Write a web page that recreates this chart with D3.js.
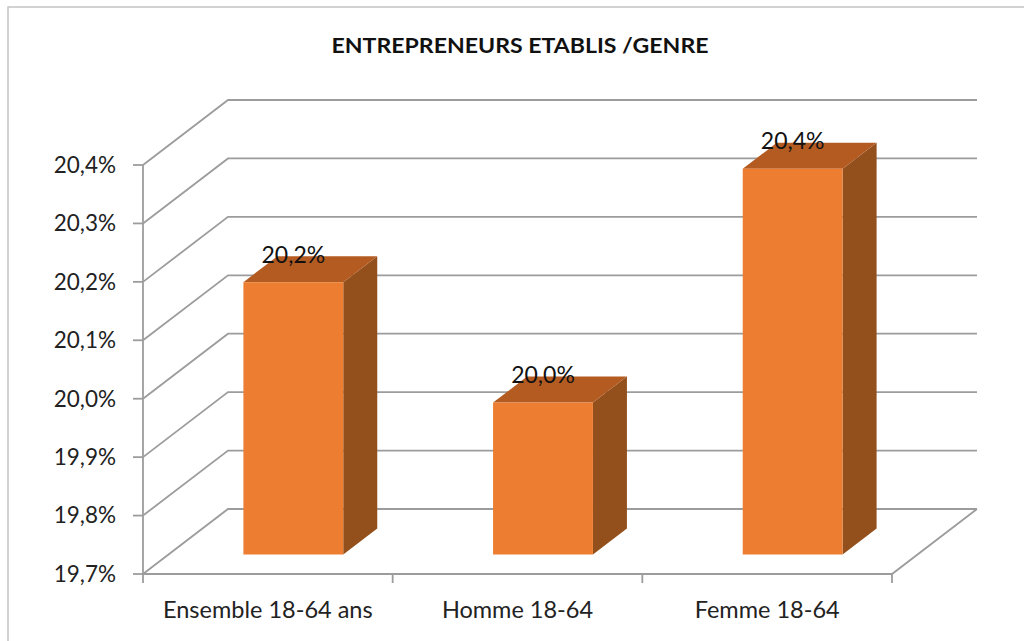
<!DOCTYPE html>
<html>
<head>
<meta charset="utf-8">
<script src="https://cdn.jsdelivr.net/npm/d3@7"></script>
<style>
  html, body { margin: 0; padding: 0; background: #ffffff; }
  svg { display: block; }
</style>
</head>
<body>
<svg id="chart" width="1024" height="641"></svg>
<script>
// ---- data ----
const title = "ENTREPRENEURS ETABLIS /GENRE";
const categories = ["Ensemble 18-64 ans", "Homme 18-64", "Femme 18-64"];
const values = [20.166, 19.96, 20.36];
const tickValues = [19.7, 19.8, 19.9, 20.0, 20.1, 20.2, 20.3, 20.4];

// ---- layout ----
const W = 1024, H = 641;
const svg = d3.select("#chart");
const fmt = v => d3.format(".1f")(v).replace(".", ",") + "%";

const DX = 85, DY = 65;          // oblique depth offset (back wall)
const z0 = 0.3, z1 = 0.7;        // bar depth extent
const gridColor = "#9c9c9c";
const fontFam = "Lato, 'Open Sans', 'Liberation Sans', sans-serif";

const y = d3.scaleLinear().domain([19.7, 20.4]).range([574, 165]);
const x = d3.scaleBand().domain(categories).range([143, 892]).paddingInner(0).paddingOuter(0);
const barFrac = 0.4;

const P = (px, v, z) => [px + z * DX, y(v) - z * DY];

// outer frame
svg.append("path")
  .attr("d", `M8,${H} L8,7 L${W},7`)
  .attr("fill", "none").attr("stroke", "#c4c4c4").attr("stroke-width", 1.5);

// title
svg.append("text")
  .attr("x", 520).attr("y", 53)
  .attr("text-anchor", "middle")
  .attr("font-family", fontFam).attr("font-weight", "bold").attr("font-size", 21.5)
  .attr("textLength", 377).attr("lengthAdjust", "spacingAndGlyphs")
  .attr("fill", "#111").text(title);

const x0 = x.range()[0], x1 = x.range()[1];

// gridlines: left side wall + back wall
const grid = svg.append("g").attr("fill", "none").attr("stroke", gridColor).attr("stroke-width", 1.8);
tickValues.forEach(v => {
  const a = P(x0, v, 0), b = P(x0, v, 1), c = P(x1, v, 1);
  grid.append("path").attr("d", `M${a[0]},${a[1]} L${b[0]},${b[1]} L${c[0]},${c[1]}`);
});
// floor front edge and right edge
{
  const a = P(x0, 19.7, 0), b = P(x1, 19.7, 0), c = P(x1, 19.7, 1);
  grid.append("path").attr("d", `M${a[0]},${a[1]} L${b[0]},${b[1]} L${c[0]},${c[1]}`);
}
// y axis vertical line
grid.append("line").attr("x1", x0).attr("x2", x0).attr("y1", y(20.4)).attr("y2", y(19.7));

// y ticks + labels
tickValues.forEach(v => {
  grid.append("line").attr("x1", x0 - 10).attr("x2", x0).attr("y1", y(v)).attr("y2", y(v));
  svg.append("text")
    .attr("x", 116).attr("y", y(v)).attr("dy", "0.35em")
    .attr("text-anchor", "end")
    .attr("font-family", fontFam).attr("font-size", 22.5).attr("fill", "#222")
    .text(fmt(v));
});

// x ticks
const xTicks = categories.map(c => x(c)).concat([x1]);
xTicks.forEach(px => {
  grid.append("line").attr("x1", px).attr("x2", px).attr("y1", y(19.7)).attr("y2", y(19.7) + 9);
});

// category labels
categories.forEach(c => {
  svg.append("text")
    .attr("x", x(c) + x.bandwidth() / 2).attr("y", 618)
    .attr("text-anchor", "middle")
    .attr("font-family", fontFam).attr("font-size", 23.5).attr("fill", "#222")
    .text(c);
});

// bars
const frontColor = "#ED7D31", topColor = "#B45B22", sideColor = "#93501D";
categories.forEach((c, i) => {
  const v = values[i];
  const cx = x(c) + x.bandwidth() / 2;
  const hw = x.bandwidth() * barFrac / 2;
  const L = cx - hw, R = cx + hw;
  const g = svg.append("g");
  const pt = (px, vv, z) => P(px, vv, z).join(",");
  // side face
  g.append("path").attr("fill", sideColor)
    .attr("d", `M${pt(R,19.7,z0)} L${pt(R,19.7,z1)} L${pt(R,v,z1)} L${pt(R,v,z0)} Z`);
  // top face
  g.append("path").attr("fill", topColor)
    .attr("d", `M${pt(L,v,z0)} L${pt(R,v,z0)} L${pt(R,v,z1)} L${pt(L,v,z1)} Z`);
  // front face
  g.append("path").attr("fill", frontColor)
    .attr("d", `M${pt(L,19.7,z0)} L${pt(R,19.7,z0)} L${pt(R,v,z0)} L${pt(L,v,z0)} Z`);
  // label
  const lp = P(cx, v, z0);
  svg.append("text")
    .attr("x", lp[0]).attr("y", lp[1] - 19.5)
    .attr("text-anchor", "middle")
    .attr("font-family", fontFam).attr("font-size", 23).attr("fill", "#111")
    .text(fmt(v));
});
</script>
</body>
</html>
